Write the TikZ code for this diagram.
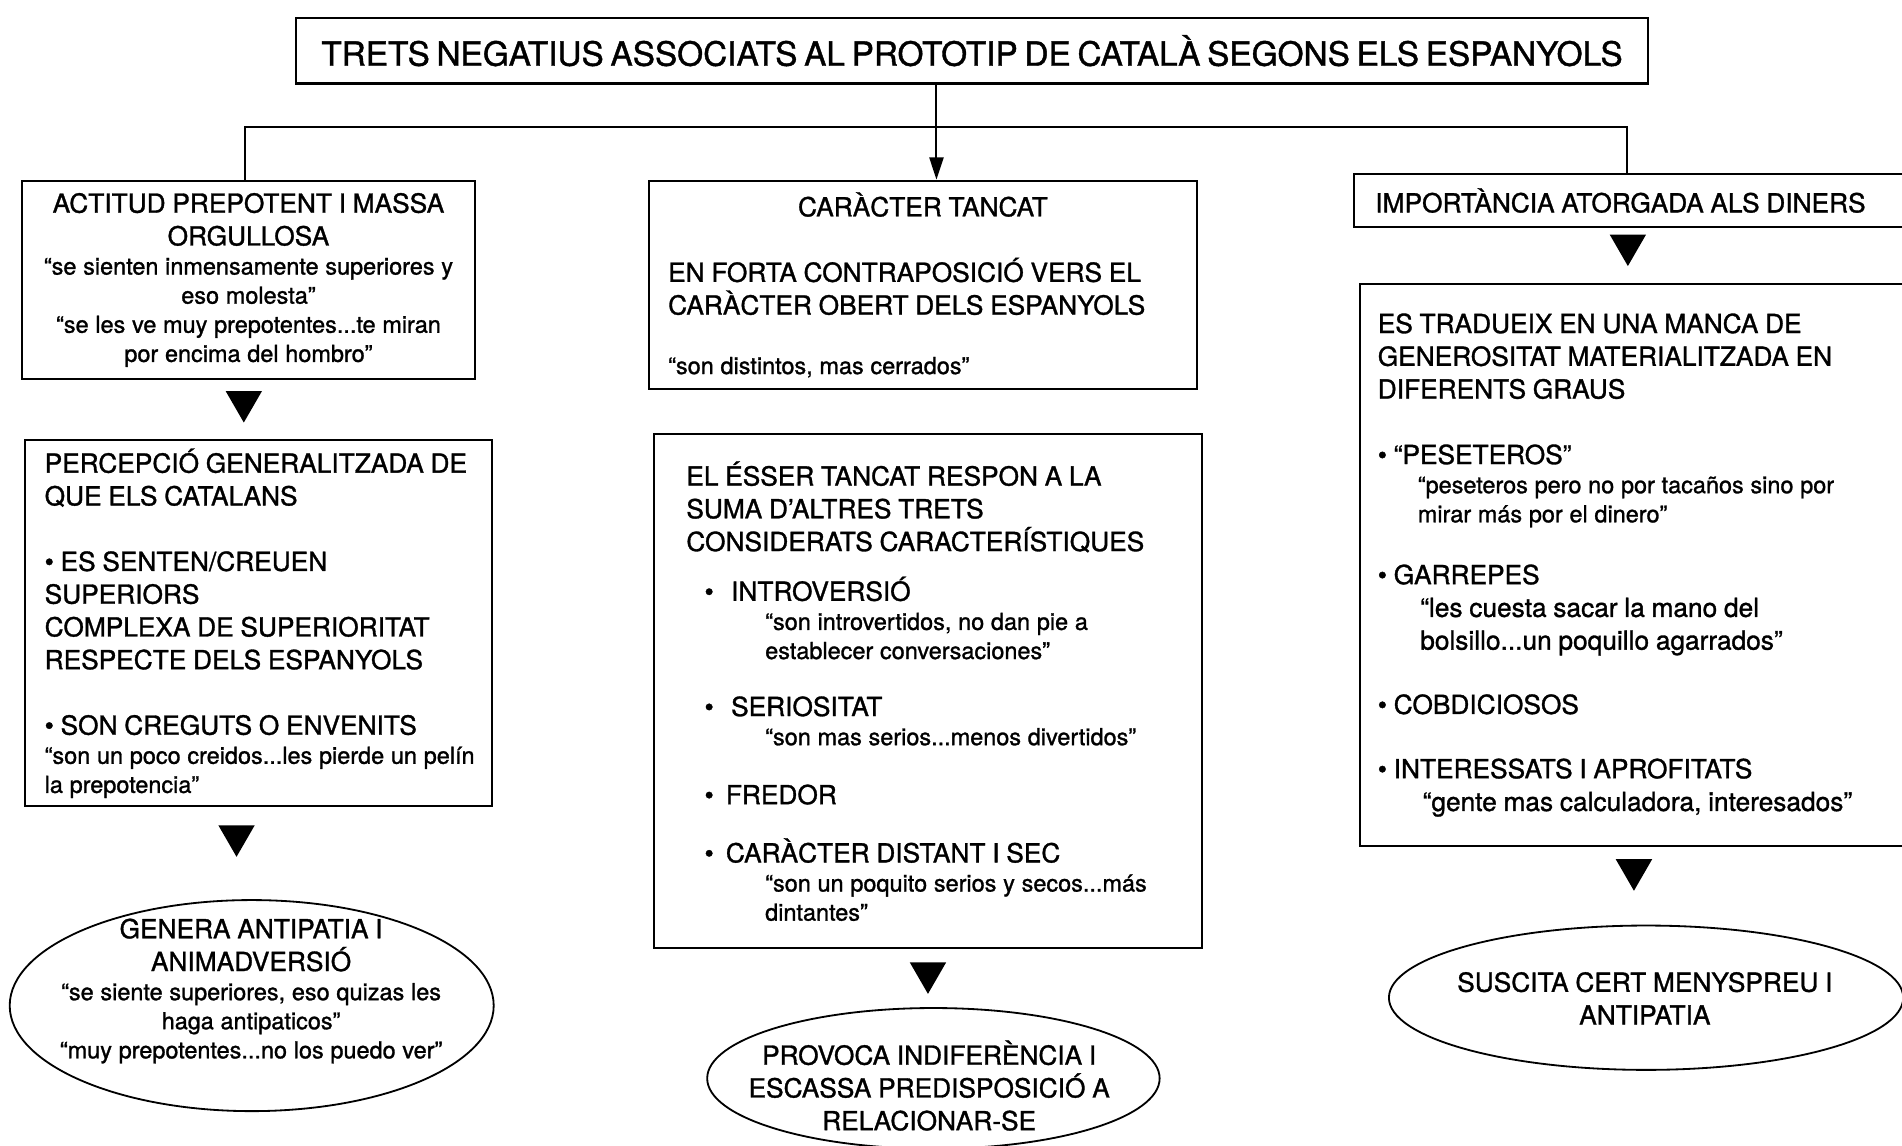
\documentclass[tikz,border=0pt]{standalone}
\usepackage{fontspec}
\setmainfont{TeX Gyre Heros}[FakeBold=1.2]
\usepackage{tikz}
\usetikzlibrary{shapes.geometric,arrows.meta,positioning}
\setlength{\parindent}{0pt}

\newcommand{\ttl}{\fontsize{16.5}{19}\selectfont}
\newcommand{\hd}{\fontsize{13}{16.2}\selectfont}
\newcommand{\qt}{\fontsize{11.6}{14.4}\selectfont}

\begin{document}
\begin{tikzpicture}[x=0.6pt,y=-0.6pt,
  box/.style={draw,line width=1pt,anchor=north west,inner xsep=0pt,inner ysep=0pt,align=left},
  oval/.style={draw,ellipse,line width=0.9pt,inner sep=0pt},
  txt/.style={align=center,text width=220pt,inner sep=0pt},
  pointer/.style={regular polygon,regular polygon sides=3,shape border rotate=180,
    fill=black,inner sep=0pt,minimum size=20.8pt},
  link/.style={line width=1pt}]
\useasboundingbox (0,0) rectangle (1568,944);
\clip (0,0) rectangle (1568,944);

\coordinate (jL) at (202,105);
\coordinate (jM) at (772,105);
\coordinate (jR) at (1341,105);

\node[box,align=center,text width=669pt,minimum height=32.4pt] (title) at (243,14)
  {\ttl TRETS NEGATIUS ASSOCIATS AL PROTOTIP DE CATALÀ SEGONS ELS ESPANYOLS\par};

\node[box,align=center,text width=224.4pt,minimum height=98.4pt] (attitude) at (17,148)
  {{\hd ACTITUD PREPOTENT I MASSA\\ORGULLOSA\par}
   {\qt “se sienten inmensamente superiores y\\eso molesta”\\
    “se les ve muy prepotentes...te miran\\por encima del hombro”\par}};
\node[box,text width=231pt,minimum height=181.2pt] (perception) at (20,362)
  {\leftskip=9.6pt
   {\hd PERCEPCIÓ GENERALITZADA DE\\QUE ELS CATALANS\\[16.2pt]
    • ES SENTEN/CREUEN\\SUPERIORS\\COMPLEXA DE SUPERIORITAT\\RESPECTE DELS ESPANYOLS\\[16.2pt]
    • SON CREGUTS O ENVENITS\par}
   {\qt “son un poco creidos...les pierde un pelín\\la prepotencia”\par}};
\node[oval,minimum width=239.4pt,minimum height=104.4pt] (antipathy) at (207.5,829) {};
\node[txt] (antipathytxt) at (207,817)
  {{\hd GENERA ANTIPATIA I\\ANIMADVERSIÓ\par}
   {\qt “se siente superiores, eso quizas les\\haga antipaticos”\\
    “muy prepotentes...no los puedo ver”\par}};

\node[box,text width=271.2pt,minimum height=103.2pt] (closed) at (534,148)
  {\leftskip=9.6pt
   {\hd{\centering CARÀCTER TANCAT\par}\vspace{16.2pt}
    EN FORTA CONTRAPOSICIÓ VERS EL\\CARÀCTER OBERT DELS ESPANYOLS\par}
   \vspace{15pt}
   {\qt “son distintos, mas cerrados”\par}};
\node[box,text width=271.2pt,minimum height=254.4pt] (traits) at (538,357)
  {\leftskip=16.2pt
   {\hd EL ÉSSER TANCAT RESPON A LA\\SUMA D’ALTRES TRETS\\CONSIDERATS CARACTERÍSTIQUES\par}
   \vspace{8.4pt}
   {\hd\hspace*{9pt}•\hspace{8.6pt}INTROVERSIÓ\par}
   {\qt\leftskip=55.2pt “son introvertidos, no dan pie a\\establecer conversaciones”\par}
   \vspace{12pt}
   {\hd\hspace*{9pt}•\hspace{8.6pt}SERIOSITAT\par}
   {\qt\leftskip=55.2pt “son mas serios...menos divertidos”\par}
   \vspace{13pt}
   {\hd\hspace*{9pt}•\hspace{6pt}FREDOR\par}
   \vspace{12.6pt}
   {\hd\hspace*{9pt}•\hspace{6pt}CARÀCTER DISTANT I SEC\par}
   {\qt\leftskip=55.2pt “son un poquito serios y secos...más\\dintantes”\par}};
\node[oval,minimum width=223.8pt,minimum height=69.6pt] (indifference) at (769.5,889) {};
\node[txt] (indifferencetxt) at (766,895)
  {\hd PROVOCA INDIFERÈNCIA I\\ESCASSA PREDISPOSICIÓ A\\RELACIONAR-SE\par};

\node[box,text width=276pt,minimum height=25.8pt] (money) at (1115,143)
  {\leftskip=10.8pt\hd IMPORTÀNCIA ATORGADA ALS DINERS\par};
\node[box,text width=273pt,minimum height=278.4pt] (greed) at (1120,233)
  {\leftskip=9pt
   {\hd ES TRADUEIX EN UNA MANCA DE\\GENEROSITAT MATERIALITZADA EN\\DIFERENTS GRAUS\\[16.2pt]
    • “PESETEROS”\par}
   {\qt\leftskip=28.8pt “peseteros pero no por tacaños sino por\\mirar más por el dinero”\par}
   \vspace{14.4pt}
   {\hd • GARREPES\par}
   {\hd\leftskip=30pt “les cuesta sacar la mano del\\bolsillo...un poquillo agarrados”\par}
   \vspace{15.6pt}
   {\hd • COBDICIOSOS\par}
   \vspace{15.6pt}
   {\hd • INTERESSATS I APROFITATS\par}
   {\hd\leftskip=31.2pt “gente mas calculadora, interesados”\par}};
\node[oval,minimum width=254.4pt,minimum height=71.4pt] (contempt) at (1357,822.5) {};
\node[txt] (contempttxt) at (1356,823)
  {\hd SUSCITA CERT MENYSPREU I\\ANTIPATIA\par};

\node[pointer] (p1) at (201,331) {};
\node[pointer] (p2) at (195,689) {};
\node[pointer] (p3) at (765,802) {};
\node[pointer] (p4) at (1342,202) {};
\node[pointer] (p5) at (1347,717) {};

\draw[link] (jL |- attitude.north) -- (jL) -- (jR) -- (jR |- money.north);
\draw[link,-{Triangle[length=11pt,width=7pt]}] (jM |- title.south) -- (jM |- closed.north);
\end{tikzpicture}
\end{document}
